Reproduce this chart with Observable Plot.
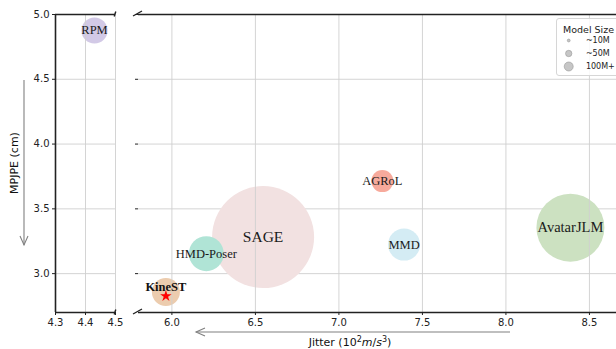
<!DOCTYPE html>
<html><head><meta charset="utf-8">
<script src="https://cdn.jsdelivr.net/npm/d3@7"></script>
<script src="https://cdn.jsdelivr.net/npm/@observablehq/plot@0.6"></script>
<style>
body{margin:0;background:#fff;}
#chart{position:relative;width:616px;height:349px;overflow:hidden;font-family:"DejaVu Sans",sans-serif;background:#fff;}
#chart svg{position:absolute;top:0;overflow:visible;}
#legend{position:absolute;left:556px;top:18px;width:66px;height:56px;border:1px solid #d6d6d6;border-radius:3px;background:rgba(255,255,255,0.85);}
#legend svg{position:absolute;left:0;top:0;}
</style></head><body><div id="chart"></div>
<script>
// ---- data ----
const methods = ["RPM", "KineST", "HMD-Poser", "SAGE", "AGRoL", "MMD", "AvatarJLM"];
const jitter  = [4.43, 5.964, 6.206, 6.546, 7.26, 7.39, 8.386];
const mpjpe   = [4.877, 2.858, 3.154, 3.282, 3.714, 3.224, 3.355];
const bubbleArea = [170, 196, 306, 2601, 121, 256, 1156]; // relative marker area
const yTicks = [3.0, 3.5, 4.0, 4.5, 5.0];
const xTicksLeft = [4.3, 4.4, 4.5];
const xTicksRight = [6.0, 6.5, 7.0, 7.5, 8.0, 8.5];
const legendLabels = ["~10M", "~50M", "100M+"];
const legendSizes = [10, 50, 100];

// ---- styles ----
const palette = ["#d2c9e6", "#ecccae", "#b0e4d6", "#f2e1e1", "#f7aa9c", "#d4ecf4", "#cce1c1"];
const bigLabel = {"SAGE": 15.5, "AvatarJLM": 14.5};
const ours = "KineST";

const rows = methods.map((m, i) => ({method: m, jitter: jitter[i], mpjpe: mpjpe[i], area: bubbleArea[i]}));
const leftData = rows.filter(d => d.jitter < 5);
const rightData = rows.filter(d => d.jitter >= 5);

const grid = {stroke: "#cfcfcf", strokeWidth: 0.9};
const spine = {stroke: "#222", strokeWidth: 1.6};
const common = {
  height: 349, marginTop: 14, marginBottom: 37,
  y: {domain: [2.7, 5.0]},
  r: {type: "sqrt", domain: [0, 2601], range: [0, 51]},
  color: {type: "ordinal", domain: methods, range: palette},
  style: {fontFamily: "DejaVu Sans", fontSize: "10px", color: "#222", background: "transparent", overflow: "visible"}
};
const labelMark = data => Plot.text(data, {
  x: "jitter", y: "mpjpe", text: "method", fontFamily: "Liberation Serif",
  fontSize: d => bigLabel[d.method] || 12.5, fill: "#1a1a1a"
});

const left = Plot.plot({
  ...common, width: 128, marginLeft: 55, marginRight: 13,
  x: {domain: [4.3, 4.5]},
  marks: [
    Plot.ruleY(yTicks, grid),
    Plot.dot(leftData, {x: "jitter", y: "mpjpe", r: "area", fill: "method"}),
    Plot.ruleX(xTicksLeft, grid),
    labelMark(leftData),
    Plot.axisX(xTicksLeft, {tickSize: 3, tickPadding: 3, tickFormat: d3.format(".1f"), label: null, fontSize: 10}),
    Plot.axisY(yTicks, {tickSize: 3, tickPadding: 3, tickFormat: d3.format(".1f"), label: null, fontSize: 10}),
    Plot.ruleY([2.7, 5.0], spine),
    Plot.ruleX([4.3], spine)
  ]
});
left.style.left = "0px";

const oursData = rightData.filter(d => d.method === ours);
const right = Plot.plot({
  ...common, width: 488, marginLeft: 10, marginRight: 0,
  x: {domain: [5.8, 8.662]},
  marks: [
    Plot.ruleY(yTicks, grid),
    Plot.dot(rightData, {x: "jitter", y: "mpjpe", r: "area", fill: "method"}),
    Plot.ruleX(xTicksRight, grid),
    labelMark(rightData.filter(d => d.method !== ours)),
    Plot.text(oursData, {x: "jitter", y: "mpjpe", text: "method", fontFamily: "Liberation Serif", fontWeight: "bold", fontSize: 12.5, fill: "#111", dy: -5}),
    Plot.dot(oursData, {x: "jitter", y: "mpjpe", symbol: "star", r: 3.6, fill: "#ff0000", dy: 4}),
    Plot.axisX(xTicksRight, {tickSize: 3, tickPadding: 3, tickFormat: d3.format(".1f"), label: null, fontSize: 10}),
    Plot.axisY(yTicks, {tickSize: 3, tickFormat: () => "", label: null}),
    Plot.ruleY([2.7, 5.0], spine)
  ]
});
right.style.left = "128px";

const chart = document.getElementById("chart");
chart.append(left, right);

// ---- annotations overlay ----
const ov = d3.select(chart).append("svg")
  .attr("width", 616).attr("height", 349)
  .style("left", "0px").style("pointer-events", "none");
const brk = [[114.2, 16.5, 115.8, 11.5], [133, 16, 142, 11], [114.2, 314.5, 115.8, 309.5], [133, 314, 142, 309]];
ov.selectAll("line.brk").data(brk).join("line").attr("class", "brk")
  .attr("x1", d => d[0]).attr("y1", d => d[1]).attr("x2", d => d[2]).attr("y2", d => d[3])
  .attr("stroke", "#222").attr("stroke-width", 1.4);
const arrowColor = "#808080";
ov.append("line").attr("x1", 24).attr("y1", 80).attr("x2", 24).attr("y2", 245).attr("stroke", arrowColor).attr("stroke-width", 1.1);
ov.append("polyline").attr("points", "20,236 24,245 28,236").attr("fill", "none").attr("stroke", arrowColor).attr("stroke-width", 1.1);
ov.append("line").attr("x1", 510).attr("y1", 332).attr("x2", 196).attr("y2", 332).attr("stroke", arrowColor).attr("stroke-width", 1.1);
ov.append("polyline").attr("points", "205,328 196,332 205,336").attr("fill", "none").attr("stroke", arrowColor).attr("stroke-width", 1.1);
ov.append("text").attr("transform", "translate(14,163) rotate(-90)")
  .attr("text-anchor", "middle").attr("dominant-baseline", "central")
  .attr("font-family", "DejaVu Sans").attr("font-size", 11).attr("fill", "#111").text("MPJPE (cm)");
const xl = ov.append("text").attr("x", 350).attr("y", 346).attr("text-anchor", "middle")
  .attr("font-family", "DejaVu Sans").attr("font-size", 11).attr("fill", "#111");
xl.append("tspan").text("Jitter (10");
xl.append("tspan").attr("dy", -4).attr("font-size", 8).text("2");
xl.append("tspan").attr("dy", 4).attr("font-style", "italic").text("m");
xl.append("tspan").text("/");
xl.append("tspan").attr("font-style", "italic").text("s");
xl.append("tspan").attr("dy", -4).attr("font-size", 8).text("3");
xl.append("tspan").attr("dy", 4).text(")");

// ---- legend ----
const legDiv = document.createElement("div");
legDiv.id = "legend";
chart.append(legDiv);
const legRows = legendLabels.map((l, i) => ({label: l, size: legendSizes[i]}));
const leg = Plot.plot({
  width: 66, height: 56, margin: 0,
  x: {domain: [0, 1], range: [0, 66], axis: null},
  y: {type: "point", domain: legendLabels, range: [21, 47], padding: 0, axis: null},
  r: {type: "sqrt", domain: [0, 100], range: [0, 4.5]},
  style: {fontFamily: "DejaVu Sans", background: "transparent", overflow: "visible", color: "#222"},
  marks: [
    Plot.text(["Model Size"], {frameAnchor: "top", x: () => 0.47, dy: 7, fontSize: 9.5, fill: "#222"}),
    Plot.dot(legRows, {x: () => 0.17, y: "label", r: "size", fill: "#c6c6c6", stroke: "#999", strokeWidth: 0.6}),
    Plot.text(legRows, {x: () => 0.43, y: "label", text: "label", textAnchor: "start", fontSize: 8, fill: "#222"})
  ]
});
legDiv.append(leg);
</script></body></html>
